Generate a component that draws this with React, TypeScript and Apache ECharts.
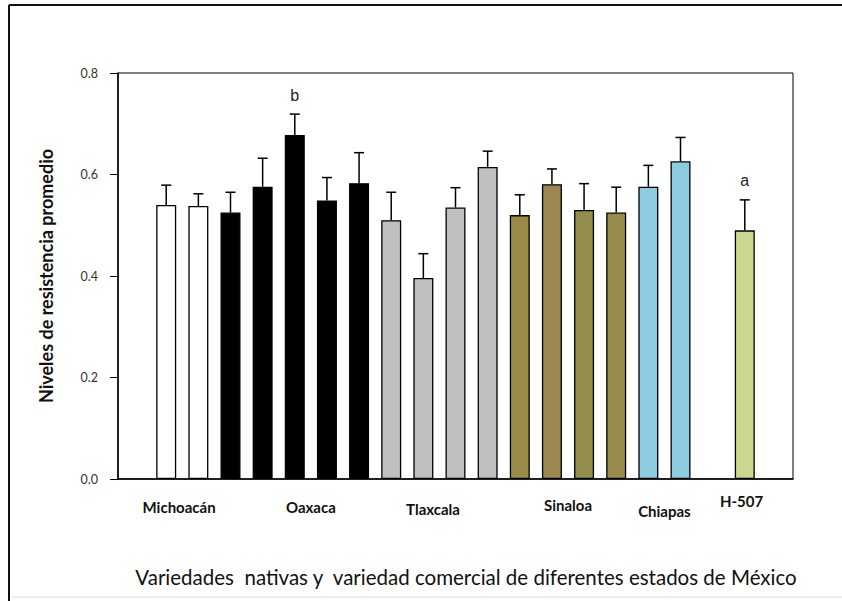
import React, { useEffect, useRef } from "react";
import * as echarts from "echarts";

// ---- data ----
const varieties = [
  "Michoacán 1", "Michoacán 2",
  "Oaxaca 1", "Oaxaca 2", "Oaxaca 3", "Oaxaca 4", "Oaxaca 5",
  "Tlaxcala 1", "Tlaxcala 2", "Tlaxcala 3", "Tlaxcala 4",
  "Sinaloa 1", "Sinaloa 2", "Sinaloa 3", "Sinaloa 4",
  "Chiapas 1", "Chiapas 2",
  "H-507",
];
const means = [
  0.540, 0.538,
  0.525, 0.576, 0.678, 0.549, 0.583,
  0.510, 0.396, 0.535, 0.615,
  0.520, 0.581, 0.530, 0.525,
  0.576, 0.626,
  0.490,
];
const stdErr = [
  0.039, 0.024,
  0.040, 0.056, 0.041, 0.045, 0.060,
  0.055, 0.048, 0.039, 0.031,
  0.040, 0.030, 0.052, 0.050,
  0.042, 0.047,
  0.060,
];
const letters = [
  "", "",
  "", "", "b", "", "",
  "", "", "", "",
  "", "", "", "",
  "", "",
  "a",
];
const barColors = [
  "#ffffff", "#ffffff",
  "#000000", "#000000", "#000000", "#000000", "#000000",
  "#c0c0c0", "#c0c0c0", "#c0c0c0", "#c0c0c0",
  "#9a8a48", "#9c8752", "#938c4a", "#968b4a",
  "#8ccbe0", "#8ccbe0",
  "#c9d78f",
];
// slots on the category axis ("" = empty slot)
const slots = [
  "", ...varieties.slice(0, 17), "", "H-507", "",
];
const groupNames = ["Michoacán", "Oaxaca", "Tlaxcala", "Sinaloa", "Chiapas", "H-507"];
const groupLabelSlot = [1.4, 5.5, 9.3, 13.5, 16.5, 18.9];
const groupLabelY = [507, 507, 509, 505, 511, 501];
const yTicks = [0, 0.2, 0.4, 0.6, 0.8];

const FONT = "Lato, 'Open Sans', sans-serif";

export default function App() {
  const ref = useRef<HTMLDivElement>(null);
  useEffect(() => {
    document.body.style.margin = "0";
    const chart = echarts.init(ref.current!, null, { renderer: "svg" });
    const gridLeft = 118, gridTop = 73, gridRight = 49, gridBottom = 122;
    const W = 842, H = 601;
    const slotW = (W - gridLeft - gridRight) / slots.length;

    const barData = slots.map((s) => {
      const i = varieties.indexOf(s);
      if (s === "" || i < 0) return { value: "-" };
      return {
        value: means[i],
        itemStyle: { color: barColors[i], borderColor: "#000", borderWidth: 1.3 },
      };
    });
    const errData = slots
      .map((s, k) => {
        const i = varieties.indexOf(s);
        if (s === "" || i < 0) return null;
        return [k, means[i], means[i] + stdErr[i], letters[i]];
      })
      .filter((d) => d !== null);

    chart.setOption({
      animation: false,
      backgroundColor: "#ffffff",
      grid: {
        left: gridLeft, top: gridTop, right: gridRight, bottom: gridBottom,
        show: true, borderColor: "#000", borderWidth: 1, backgroundColor: "#fff",
      },
      xAxis: {
        type: "category",
        data: slots,
        axisLine: { show: true, lineStyle: { color: "#000", width: 1.5 } },
        axisTick: { show: false },
        axisLabel: { show: false },
        splitLine: { show: false },
      },
      yAxis: {
        type: "value",
        min: 0, max: 0.8, interval: 0.2,
        axisLine: { show: true, lineStyle: { color: "#000", width: 1.5 } },
        axisTick: { show: true, inside: false, length: 8, lineStyle: { color: "#000", width: 1 } },
        axisLabel: {
          margin: 20, color: "#333", fontFamily: FONT, fontSize: 12.5,
          formatter: (v: number) => v.toFixed(1),
          customValues: yTicks,
        },
        splitLine: { show: false },
        name: "Niveles de resistencia promedio",
        nameLocation: "middle",
        nameGap: 63,
        nameTextStyle: { fontFamily: FONT, fontSize: 18, fontWeight: "bold", color: "#111" },
      },
      series: [
        {
          type: "bar",
          data: barData,
          barWidth: 20,
          z: 2,
        },
        {
          type: "custom",
          z: 3,
          data: errData,
          renderItem: (params: any, api: any) => {
            const x = api.value(0);
            const lo = api.coord([x, api.value(1)]);
            const hi = api.coord([x, api.value(2)]);
            const letter = errData[params.dataIndex][3] as string;
            const cap = 5;
            const children: any[] = [
              { type: "line", shape: { x1: lo[0], y1: lo[1], x2: hi[0], y2: hi[1] }, style: { stroke: "#000", lineWidth: 1.5 } },
              { type: "line", shape: { x1: hi[0] - cap, y1: hi[1], x2: hi[0] + cap, y2: hi[1] }, style: { stroke: "#000", lineWidth: 1.5 } },
            ];
            if (letter) {
              children.push({
                type: "text",
                x: hi[0], y: hi[1] - 19,
                style: { text: letter, fill: "#222", font: "16px 'Liberation Sans', Arial, sans-serif", align: "center", verticalAlign: "middle" },
              });
            }
            return { type: "group", children };
          },
        },
      ],
      graphic: [
        { type: "line", shape: { x1: 9, y1: 5, x2: W, y2: 5 }, style: { stroke: "#111", lineWidth: 2 } },
        { type: "line", shape: { x1: 9, y1: 5, x2: 9, y2: H }, style: { stroke: "#111", lineWidth: 2 } },
        { type: "line", shape: { x1: 12, y1: 597, x2: W, y2: 597 }, style: { stroke: "#ddd", lineWidth: 1 } },
        ...groupNames.map((g, i) => ({
          type: "text",
          x: gridLeft + (groupLabelSlot[i] + 0.5) * slotW,
          y: groupLabelY[i],
          style: {
            text: g, fill: "#111", align: "center", verticalAlign: "middle",
            font: `bold 15px ${FONT}`,
          },
        })),
        {
          type: "text",
          x: 466, y: 577,
          style: {
            text: "Variedades  nativas y  variedad comercial de diferentes estados de México",
            fill: "#111", align: "center", verticalAlign: "middle",
            font: `20.5px ${FONT}`,
          },
        },
      ],
    });
    return () => chart.dispose();
  }, []);
  return <div ref={ref} style={{ width: 842, height: 601 }} />;
}
